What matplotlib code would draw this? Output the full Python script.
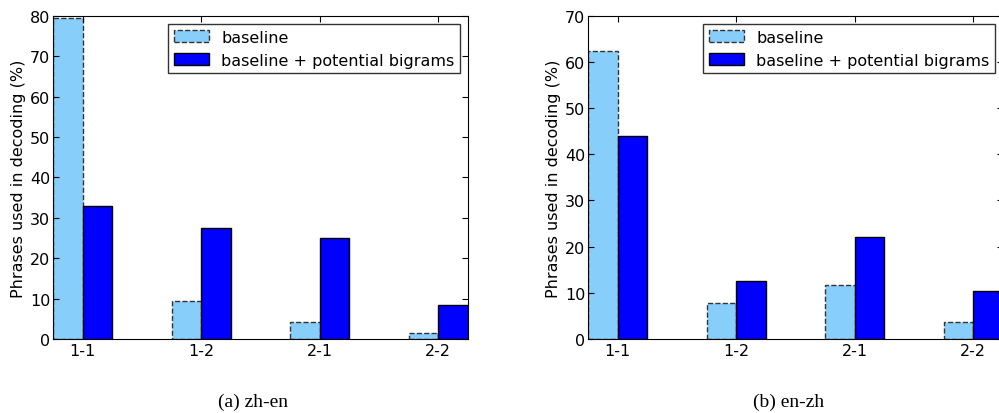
import matplotlib.pyplot as plt
import matplotlib
import numpy as np

matplotlib.rcParams['font.family'] = 'DejaVu Sans'
matplotlib.rcParams['font.size'] = 11.5

categories = ['1-1', '1-2', '2-1', '2-2']
labels = ['baseline', 'baseline + potential bigrams']

zh_en_baseline = [79.5, 9.5, 4.2, 1.5]
zh_en_bigrams = [32.9, 27.5, 25.1, 8.3]
en_zh_baseline = [62.3, 7.7, 11.6, 3.6]
en_zh_bigrams = [43.9, 12.6, 22.0, 10.4]

captions = ['(a) zh-en', '(b) en-zh']
ylimits = [(0, 80), (0, 70)]

width = 0.25
x = np.arange(len(categories))

fig = plt.figure(figsize=(9.99, 4.14), dpi=100)
ax1 = fig.add_axes([0.053, 0.179, 0.4154, 0.780])
ax2 = fig.add_axes([0.5886, 0.179, 0.4154, 0.780])

data = [(zh_en_baseline, zh_en_bigrams), (en_zh_baseline, en_zh_bigrams)]

for ax, (base, big), ylim in zip([ax1, ax2], data, ylimits):
    ax.bar(x - width, base, width, align='edge', color='#87CEFA',
           edgecolor='#333333', linestyle='--', linewidth=1, label=labels[0])
    ax.bar(x, big, width, align='edge', color='#0000FF',
           edgecolor='black', linewidth=1, label=labels[1])
    ax.set_xlim(-width, len(categories) - 1 + width)
    ax.set_ylim(*ylim)
    ax.set_xticks(x)
    ax.set_xticklabels(categories)
    ax.tick_params(direction='in', top=True, right=True, length=4, pad=2)
    ax.tick_params(axis='x', pad=3)
    ax.set_ylabel('Phrases used in decoding (%)', labelpad=3)
    leg = ax.legend(loc='upper right', fancybox=False, borderaxespad=0.5,
                    handlelength=2.2, handletextpad=0.75, borderpad=0.35,
                    labelspacing=0.5)
    leg.get_frame().set_edgecolor('black')
    leg.get_frame().set_linewidth(1)

# captions under each panel
fig.text(0.2533, 0.018, captions[0], ha='center', family='Liberation Serif', fontsize=14)
fig.text(0.7893, 0.018, captions[1], ha='center', family='Liberation Serif', fontsize=14)

plt.savefig('out.png', dpi=100)
